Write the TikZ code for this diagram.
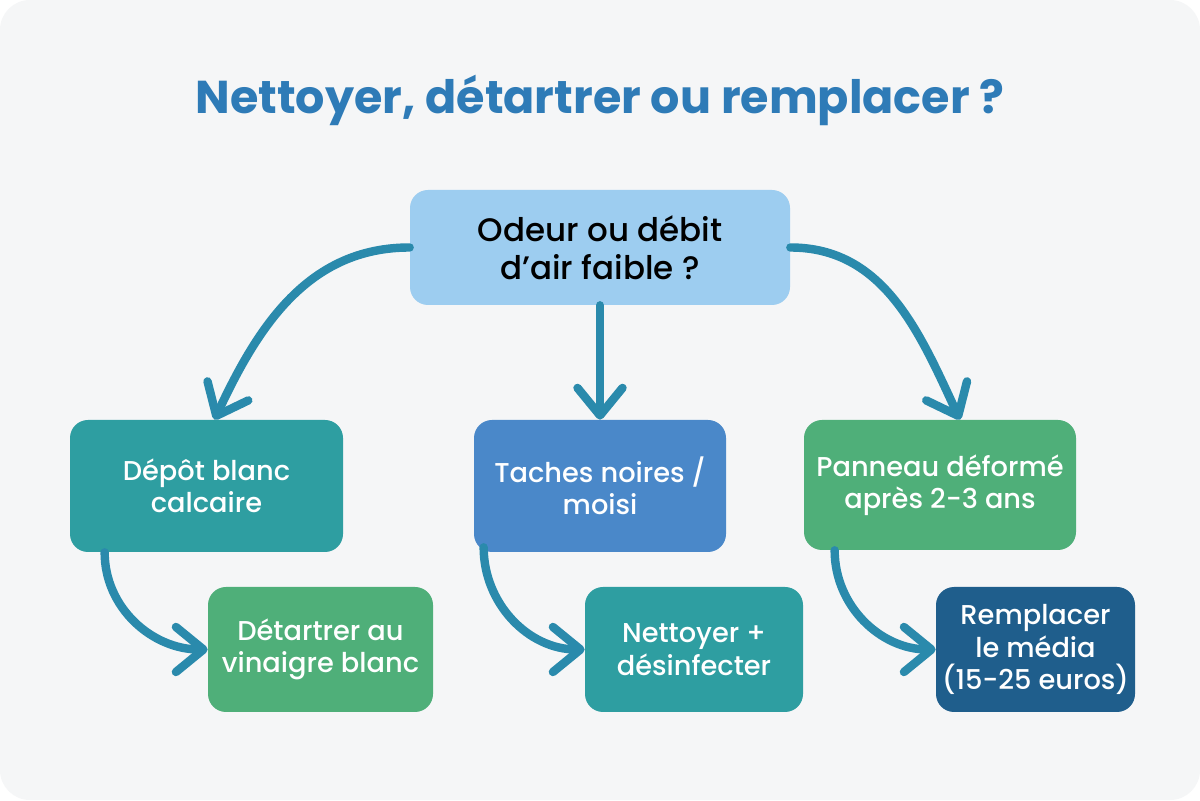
\documentclass[tikz,border=0pt]{standalone}
\usepackage{fontspec}
\setmainfont{Poppins}
\newfontfamily\boxfont{Poppins Medium}
\usepackage{tikz}
\usetikzlibrary{arrows.meta, positioning}

\definecolor{bgcol}{HTML}{F5F6F7}
\definecolor{titlecol}{HTML}{2E7BB7}
\definecolor{linkcol}{HTML}{2A8AAC}
\definecolor{skycol}{HTML}{9DCDF0}
\definecolor{tealcol}{HTML}{2E9EA1}
\definecolor{bluecol}{HTML}{4A88C9}
\definecolor{greencol}{HTML}{4FAF79}
\definecolor{navycol}{HTML}{1F5E8C}

\begin{document}
\begin{tikzpicture}[
  box/.style={rounded corners=0.36cm, align=center, inner sep=0pt,
    font=\boxfont\fontsize{15.5}{18.5}\selectfont, text=white},
  flow/.style={draw=linkcol, line width=4.8pt, line cap=round,
    -{Straight Barb[length=5.5mm, width=9mm, line cap=round, line join=round]}}
]
  % background
  \fill[white] (0,0) rectangle (24,16);
  \fill[bgcol, rounded corners=0.6cm] (0,0) rectangle (24,16);

  % title
  \node[font=\fontsize{26.2}{31}\selectfont\bfseries, text=titlecol] (title) at (12,14.0)
    {Nettoyer, détartrer ou remplacer ?};

  % question
  \node[box, fill=skycol, text=black, minimum width=7.6cm, minimum height=2.3cm,
    font=\boxfont\fontsize{18.5}{21.6}\selectfont] (odeur) at (12,11.05)
    {Odeur ou débit\\d’air faible ?};

  % causes
  \node[box, fill=tealcol, minimum width=5.46cm, minimum height=2.64cm] (calcaire) at (4.13,6.28)
    {Dépôt blanc\\calcaire};
  \node[box, fill=bluecol, minimum width=5.04cm, minimum height=2.64cm] (moisi) at (12,6.28)
    {Taches noires /\\moisi};
  \node[box, fill=greencol, minimum width=5.44cm, minimum height=2.6cm] (panneau) at (18.8,6.3)
    {Panneau déformé\\après 2-3 ans};

  % actions
  \node[box, fill=greencol, minimum width=4.5cm, minimum height=2.5cm] (vinaigre) at (6.41,3.01)
    {Détartrer au\\vinaigre blanc};
  \node[box, fill=tealcol, minimum width=4.36cm, minimum height=2.5cm] (desinf) at (13.88,3.01)
    {Nettoyer +\\désinfecter};
  \node[box, fill=navycol, minimum width=3.98cm, minimum height=2.5cm] (media) at (20.71,3.01)
    {Remplacer\\le média\\(15-25 euros)};

  % arrows from the question
  \draw[flow] (odeur.west) to[out=180, in=65] ([xshift=1.6mm]calcaire.north);
  \draw[flow] (odeur.south) -- (moisi.north);
  \draw[flow] (odeur.east) to[out=0, in=115] ([xshift=4mm]panneau.north);

  % arrows to the actions
  \draw[flow] ([xshift=7mm]calcaire.south west) to[out=-90, in=180] (vinaigre.west);
  \draw[flow] ([xshift=2mm,yshift=1mm]moisi.south west) to[out=-90, in=180] (desinf.west);
  \draw[flow] ([xshift=6.2mm]panneau.south west) to[out=-90, in=180] (media.west);
\end{tikzpicture}
\end{document}
